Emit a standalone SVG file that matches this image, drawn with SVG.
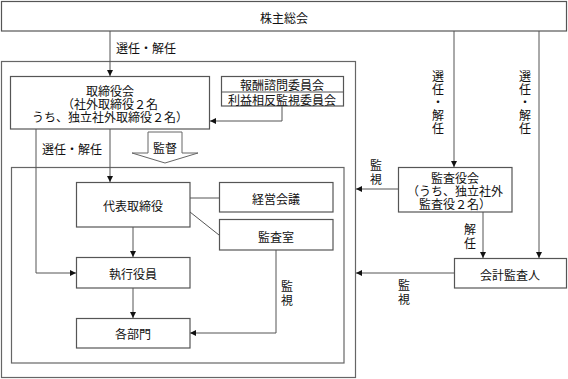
<svg xmlns="http://www.w3.org/2000/svg" width="568" height="379" viewBox="0 0 568 379">
<style>
.box{fill:#fff;stroke:#555;stroke-width:1.2}
.frame{fill:none;stroke:#666;stroke-width:1.2}
.ln{fill:none;stroke:#555;stroke-width:1}
text{font-family:"Noto Sans CJK JP","Noto Sans CJK SC",sans-serif;font-size:12px;fill:#111;text-anchor:middle;dominant-baseline:central}
</style>
<defs>
<marker id="ah" viewBox="0 0 6 6" refX="6" refY="3" markerWidth="6" markerHeight="6" markerUnits="userSpaceOnUse" orient="auto">
<path d="M0,0 L6,3 L0,6 z" fill="#111"/>
</marker>
</defs>
<rect class="frame" x="1.5" y="61.5" width="354" height="316"/>
<rect class="frame" x="11.5" y="167.5" width="332.5" height="195.5"/>
<g id="connectors">
<path class="ln" d="M110 31 V76" marker-end="url(#ah)"/>
<path class="ln" d="M282 106 V121 H210" marker-end="url(#ah)"/>
<path class="ln" d="M110 129 V182" marker-end="url(#ah)"/>
<path class="ln" d="M36 129 V273 H76" marker-end="url(#ah)"/>
<path class="ln" d="M190 198 H219"/>
<path class="ln" d="M190 212 L219 235"/>
<path class="ln" d="M133 227 V257" marker-end="url(#ah)"/>
<path class="ln" d="M133 288 V318" marker-end="url(#ah)"/>
<path class="ln" d="M276 250 V333 H190" marker-end="url(#ah)"/>
<path class="ln" d="M454 31 V167" marker-end="url(#ah)"/>
<path class="ln" d="M539 31 V258" marker-end="url(#ah)"/>
<path class="ln" d="M483 212 V258" marker-end="url(#ah)"/>
<path class="ln" d="M398 189 H356" marker-end="url(#ah)"/>
<path class="ln" d="M454 273 H356" marker-end="url(#ah)"/>
<polygon points="148,132 182,132 182,153 198,153 165,163 132,153 148,153" fill="#fff" stroke="#666" stroke-width="1"/>
<text x="165" y="147">監督</text>
<text x="146" y="47" style="text-anchor:middle">選任・解任</text>
<text x="72" y="148">選任・解任</text>
<text x="438"><tspan x="438" y="75">選</tspan><tspan x="438" y="88">任</tspan><tspan x="438" y="101">・</tspan><tspan x="438" y="114">解</tspan><tspan x="438" y="127">任</tspan></text>
<text x="525"><tspan x="525" y="75">選</tspan><tspan x="525" y="88">任</tspan><tspan x="525" y="101">・</tspan><tspan x="525" y="114">解</tspan><tspan x="525" y="127">任</tspan></text>
<text x="376"><tspan x="376" y="164">監</tspan><tspan x="376" y="178">視</tspan></text>
<text x="470"><tspan x="470" y="228">解</tspan><tspan x="470" y="242">任</tspan></text>
<text x="404"><tspan x="404" y="284">監</tspan><tspan x="404" y="298">視</tspan></text>
<text x="287"><tspan x="287" y="285">監</tspan><tspan x="287" y="299">視</tspan></text>
</g>
<g id="n-shareholders"><rect class="box" x="1.5" y="1.5" width="565" height="29.5"/><text x="284" y="17">株主総会</text></g>
<g id="n-board"><rect class="box" x="10.5" y="76.5" width="199" height="52.5"/><text x="110" y="90">取締役会</text><text x="110" y="103">（社外取締役２名</text><text x="110" y="116">うち、独立社外取締役２名）</text></g>
<g id="n-committees"><rect class="box" x="221.5" y="76.5" width="122" height="29.5"/><line class="ln" x1="221.5" y1="92" x2="343.5" y2="92"/><text x="282" y="84">報酬諮問委員会</text><text x="282" y="99">利益相反監視委員会</text></g>
<g id="n-ceo"><rect class="box" x="76.5" y="182.5" width="113.5" height="44.5"/><text x="133" y="205">代表取締役</text></g>
<g id="n-mgmt"><rect class="box" x="219.5" y="182.5" width="113.5" height="29.5"/><text x="276" y="198">経営会議</text></g>
<g id="n-audit-office"><rect class="box" x="219.5" y="219.5" width="113.5" height="30.5"/><text x="276" y="236">監査室</text></g>
<g id="n-officers"><rect class="box" x="76.5" y="257.5" width="113.5" height="30.5"/><text x="133" y="273">執行役員</text></g>
<g id="n-depts"><rect class="box" x="76.5" y="318.5" width="113.5" height="29.5"/><text x="133" y="333">各部門</text></g>
<g id="n-auditors"><rect class="box" x="398.5" y="167.5" width="113.5" height="44.5"/><text x="455" y="177">監査役会</text><text x="455" y="190">（うち、独立社外</text><text x="455" y="203">監査役２名）</text></g>
<g id="n-accountant"><rect class="box" x="454.5" y="258.5" width="112" height="29.5"/><text x="510" y="274">会計監査人</text></g>
</svg>
